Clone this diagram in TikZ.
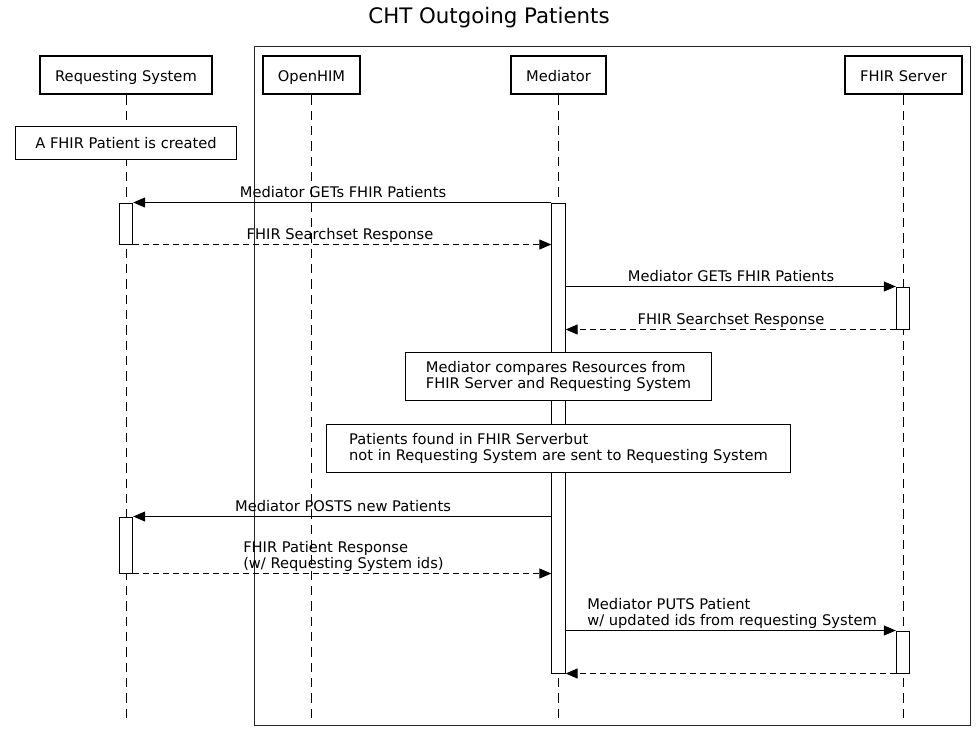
\documentclass[tikz,border=0pt]{standalone}
\usepackage{fontspec}
\setmainfont{DejaVu Sans}
\usetikzlibrary{arrows.meta}
\begin{document}
\begin{tikzpicture}[x=0.75pt,y=-0.75pt,
  every node/.style={font=\fontsize{11}{11.6}\selectfont},
  part/.style={draw=black, line width=1.5pt, minimum width=#1, minimum height=29pt, inner sep=0pt, fill=white, text height=9pt, text depth=0pt},
  notebox/.style={draw=black, line width=0.75pt, fill=white, inner sep=0pt, align=left},
  actbox/.style={draw=black, line width=0.75pt, fill=white, inner sep=0pt, minimum width=10pt},
  lifeline/.style={draw=black, line width=0.75pt, dash pattern=on 7pt off 4.5pt},
  msg/.style={draw=black, line width=0.75pt, -{Triangle[length=9pt,width=7.5pt]}},
  reply/.style={msg, dash pattern=on 4.5pt off 3pt},
  lbl/.style={inner sep=0pt, anchor=base},
  mlbl/.style={inner sep=0pt, anchor=base west, align=left}]
\useasboundingbox (0,0) rectangle (978,733);
\fill[white] (0,0) rectangle (978,733);
% title
\node[lbl, font=\fontsize{16}{19}\selectfont] (title) at (489,23) {CHT Outgoing Patients};
% group box
\node[draw=black!85, line width=0.75pt, minimum width=537pt, minimum height=509.25pt, inner sep=0pt] (grp) at (612,385.5) {};
% lifeline ends
\coordinate (rsend) at (126,723);
\coordinate (ohend) at (311.5,723);
\coordinate (mdend) at (558.5,723);
\coordinate (fsend) at (903.5,723);
% participants
\node[part=129pt] (rs) at (126,75) {Requesting System};
\node[part=73pt] (oh) at (311.5,75) {OpenHIM};
\node[part=71.5pt] (md) at (558.5,75) {Mediator};
\node[part=88pt] (fs) at (903.5,75) {FHIR Server};
% lifelines
\draw[lifeline] (rs.south) -- (rsend);
\draw[lifeline] (oh.south) -- (ohend);
\draw[lifeline] (md.south) -- (mdend);
\draw[lifeline] (fs.south) -- (fsend);
% activations
\node[actbox, minimum height=30.75pt] (rsa1) at (126,223.5) {};
\node[actbox, minimum height=42pt] (rsa2) at (126,545) {};
\node[actbox, minimum height=352.5pt] (mda) at (558.5,438) {};
\node[actbox, minimum height=31.5pt] (fsa1) at (903,308) {};
\node[actbox, minimum height=31.5pt] (fsa2) at (903,652) {};
% notes
\node[notebox, minimum width=166pt, minimum height=25pt] (n1) at (126,143) {A FHIR Patient is created};
\node[notebox, minimum width=230pt, minimum height=36.5pt] (n2) at (558.5,376.5) {Mediator compares Resources from\\FHIR Server and Requesting System};
\node[notebox, minimum width=348.5pt, minimum height=36.5pt] (n3) at (558.5,448.5) {Patients found in FHIR Serverbut\\not in Requesting System are sent to Requesting System};
% labels
\node[lbl] (l1) at (343,197) {Mediator GETs FHIR Patients};
\node[lbl] (l2) at (340,239) {FHIR Searchset Response};
\node[lbl] (l3) at (731,281) {Mediator GETs FHIR Patients};
\node[lbl] (l4) at (731,324) {FHIR Searchset Response};
\node[lbl] (l5) at (343,511) {Mediator POSTS new Patients};
\node[mlbl] (l6) at (243,568) {FHIR Patient Response\\(w/ Requesting System ids)};
\node[mlbl] (l7) at (587,625) {Mediator PUTS Patient\\w/ updated ids from requesting System};
% messages
\draw[msg] (mda.north west) -- (rsa1.north east);
\draw[reply] (rsa1.south east) -- (mda.west |- rsa1.south);
\draw[msg] (mda.east |- fsa1.north) -- (fsa1.north west);
\draw[reply] (fsa1.south west) -- (mda.east |- fsa1.south);
\draw[msg] (mda.west |- rsa2.north) -- (rsa2.north east);
\draw[reply] (rsa2.south east) -- (mda.west |- rsa2.south);
\draw[msg] (mda.east |- fsa2.north) -- (fsa2.north west);
\draw[reply] (fsa2.south west) -- (mda.south east);
\end{tikzpicture}
\end{document}
